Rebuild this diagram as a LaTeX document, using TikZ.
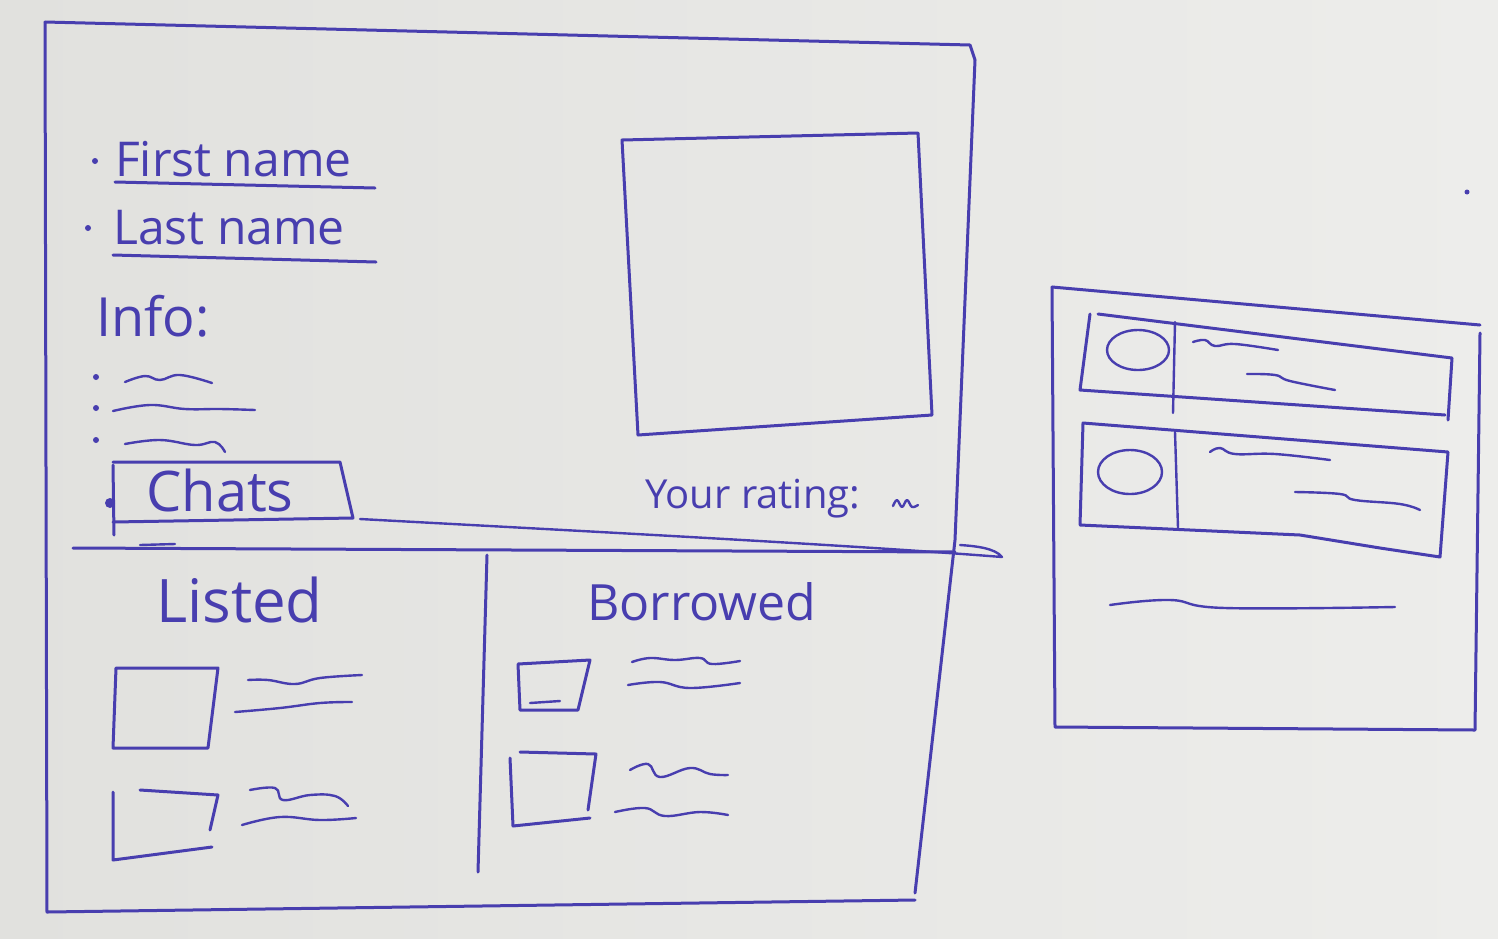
\documentclass[tikz,border=0pt]{standalone}
\usepackage{fontspec}
\setmainfont{Open Sans}
\definecolor{ink}{RGB}{72,62,175}
\definecolor{paperL}{RGB}{225,225,222}
\definecolor{paperR}{RGB}{237,237,235}
\begin{document}
\begin{tikzpicture}[x=1pt,y=-1pt,
  ink/.style={draw=ink,line width=3pt,line cap=round,line join=round},
  fine/.style={draw=ink,line width=2.4pt,line cap=round,line join=round},
  hand/.style={text=ink,inner sep=0pt,font=\fontsize{#1}{#1}\selectfont},
  dot/.style={fill=ink,draw=none},
]
% paper
\shade[left color=paperL,right color=paperR] (0,0) rectangle (1498,938);
\useasboundingbox (0,0) rectangle (1498,938);

% ---------- profile page ----------
\draw[ink] (45,22) -- (970,45) -- (975,60) -- (955,540) -- (915,893);
\draw[ink] (45,22) -- (47,912) -- (915,900);
% photo
\draw[ink] (622,140) -- (918,133) -- (932,415) -- (638,435) -- cycle;

% names
\node[hand=48,anchor=base west] (first) at (115,176) {First name};
\fill[dot] (95,161) circle (3);
\draw[ink] (115,182) -- (375,188);
\node[hand=48,anchor=base west] (last) at (113,244) {Last name};
\fill[dot] (88,228) circle (3);
\draw[ink] (113,255) -- (376,262);

% info list
\node[hand=54,anchor=base west] (info) at (96,336) {Info:};
\foreach \y in {377,408,440} \fill[dot] (96,\y) circle (3);
\draw[fine] plot[smooth,tension=0.7] coordinates {(125,382) (145,376) (160,380) (180,375) (212,383)};
\draw[fine] plot[smooth,tension=0.7] coordinates {(113,411) (150,405) (185,409) (220,409) (255,410)};
\draw[fine] plot[smooth,tension=0.7] coordinates {(125,444) (160,440) (195,445) (215,442) (225,452)};

% chats button
\draw[ink] (113,462) -- (340,462) -- (353,518) -- (113,522);
\draw[ink] (113,465) -- (114,535);
\fill[dot] (110,503) circle (5);
\node[hand=56,anchor=base] (chats) at (220,511) {Chats};
\coordinate (chatsCorner) at (360,519);

% rating
\node[hand=40,anchor=base west] (rating) at (645,508) {Your rating:};
\draw[fine] plot[smooth,tension=0.6] coordinates {(893,506) (897,500) (902,507) (907,500) (912,507) (918,505)};

% divider and link to chat list
\draw[ink] (73,548) -- (955,552);
\draw[fine] (140,545) -- (175,544);
\coordinate (chatTip) at (1002,557);
\draw[fine] (chatsCorner) .. controls (600,532) and (850,545) .. (chatTip)
  .. controls (995,548) and (975,546) .. (960,545);

% listed / borrowed columns
\draw[ink] (487,555) -- (478,872);
\node[hand=60,anchor=base west] (listed) at (156,622) {Listed};
\node[hand=50,anchor=base west] (borrowed) at (587,620) {Borrowed};

% listed items
\draw[ink] (116,668) -- (218,668) -- (208,748) -- (113,748) -- cycle;
\draw[fine] plot[smooth,tension=0.7] coordinates {(248,680) (268,680) (295,684) (320,678) (362,675)};
\draw[fine] plot[smooth,tension=0.7] coordinates {(235,712) (280,708) (320,703) (352,702)};
\draw[ink] (113,792) -- (113,860) -- (212,847);
\draw[ink] (140,790) -- (218,795) -- (210,830);
\draw[fine] plot[smooth,tension=0.7] coordinates {(250,790) (275,788) (283,800) (310,795) (335,796) (348,806)};
\draw[fine] plot[smooth,tension=0.7] coordinates {(242,825) (280,817) (320,820) (356,818)};

% borrowed items
\draw[ink] (518,664) -- (590,660) -- (578,710) -- (520,710) -- cycle;
\draw[fine] (530,703) -- (560,701);
\draw[fine] plot[smooth,tension=0.7] coordinates {(632,662) (650,658) (675,660) (700,658) (712,664) (740,661)};
\draw[fine] plot[smooth,tension=0.7] coordinates {(628,685) (660,682) (690,688) (740,683)};
\draw[ink] (510,758) -- (513,826) -- (590,818);
\draw[ink] (520,752) -- (596,754) -- (588,810);
\draw[fine] plot[smooth,tension=0.7] coordinates {(630,770) (648,764) (660,777) (690,768) (710,774) (728,775)};
\draw[fine] plot[smooth,tension=0.7] coordinates {(615,812) (645,808) (665,816) (700,812) (728,815)};

% ---------- chat list page ----------
\draw[ink] (1052,287) -- (1480,325);
\draw[ink] (1480,333) -- (1475,730) -- (1055,727) -- (1052,287);
% first chat card
\draw[ink] (1098,314) -- (1452,358) -- (1448,420);
\draw[ink] (1090,314) -- (1080,390) -- (1445,415);
\draw[fine] (1138,350) ellipse (31 and 20);
\draw[fine] (1175,322) -- (1173,413);
\draw[fine] plot[smooth,tension=0.7] coordinates {(1193,342) (1205,340) (1215,346) (1235,344) (1278,350)};
\draw[fine] plot[smooth,tension=0.7] coordinates {(1247,374) (1275,375) (1290,381) (1335,390)};
% second chat card
\draw[ink] (1083,423) -- (1448,452) -- (1440,557) -- (1380,548) -- (1300,535) -- (1080,525) -- cycle;
\draw[fine] (1130,472) ellipse (32 and 22);
\draw[fine] (1175,432) -- (1178,528);
\draw[fine] plot[smooth,tension=0.7] coordinates {(1210,452) (1220,448) (1235,454) (1275,454) (1330,460)};
\draw[fine] plot[smooth,tension=0.7] coordinates {(1295,492) (1340,494) (1355,500) (1400,504) (1420,510)};
\draw[fine] plot[smooth,tension=0.7] coordinates {(1110,605) (1170,600) (1225,608) (1395,607)};

\fill[dot] (1467,192) circle (2.5);
\end{tikzpicture}
\end{document}
